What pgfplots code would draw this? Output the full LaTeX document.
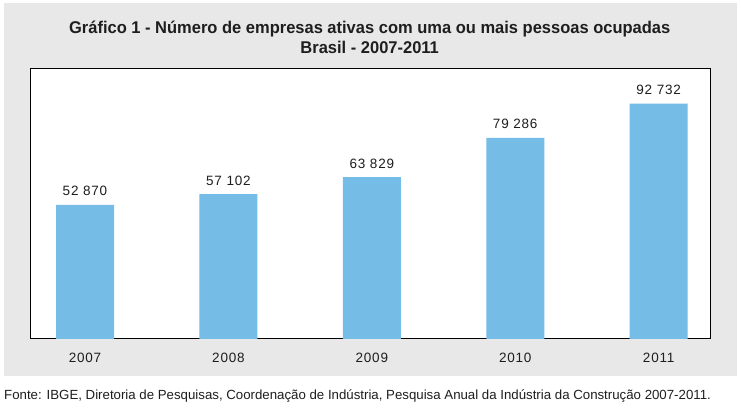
\documentclass[border=0pt]{standalone}
\usepackage{fontspec}
\setmainfont{Liberation Sans}
\newfontfamily\lblfont{Liberation Sans}[LetterSpace=6]
\newfontfamily\titlefont{Liberation Sans Bold}[FakeStretch=0.97]
\usepackage{pgfplots}
\pgfplotsset{compat=1.18}
\definecolor{barblue}{RGB}{117,188,231}
\definecolor{panelgray}{RGB}{232,232,232}
\definecolor{txt}{RGB}{30,30,30}
\begin{document}
\begin{tikzpicture}[x=1pt,y=1pt]
\path[use as bounding box] (0,0) rectangle (741,417);
\fill[panelgray] (4,41) rectangle (736.7,414);
\node[anchor=base,text=txt,inner sep=0] at (369.7,383) {\titlefont\fontsize{17}{20}\selectfont Gráfico 1 - Número de empresas ativas com uma ou mais pessoas ocupadas};
\node[anchor=base,text=txt,inner sep=0] at (369.7,363) {\titlefont\fontsize{17}{20}\selectfont Brasil - 2007-2011};
\node[anchor=base west,text=txt,inner sep=0] at (4,17) {\resizebox{706.7pt}{!}{\fontsize{13}{15}\selectfont Fonte: IBGE, Diretoria de Pesquisas, Coordenação de Indústria, Pesquisa Anual da Indústria da Construção 2007-2011.}};
\begin{axis}[
  at={(31pt,78pt)}, anchor=south west,
  scale only axis, width=679pt, height=270pt,
  ybar, bar width=58pt,
  xmin=-0.3766, xmax=4.358, ymin=0, ymax=106400,
  axis background/.style={fill=white},
  axis line style={black,line width=1pt},
  ytick=\empty,
  xtick={0,1,2,3,4},
  xticklabels={2007,2008,2009,2010,2011},
  major tick length=0pt,
  xticklabel style={anchor=base, yshift=-23.3pt, font=\lblfont\fontsize{13.5}{16}\selectfont, text=txt},
  point meta=explicit symbolic,
  nodes near coords,
  every node near coord/.append style={anchor=base, yshift=9pt, font=\lblfont\fontsize{13.5}{16}\selectfont, text=txt, inner sep=0pt},
]
\addplot[fill=barblue, draw=none] coordinates {
  (0,52870) [52 870]
  (1,57102) [57 102]
  (2,63829) [63 829]
  (3,79286) [79 286]
  (4,92732) [92 732]
};
\end{axis}
\end{tikzpicture}
\end{document}
